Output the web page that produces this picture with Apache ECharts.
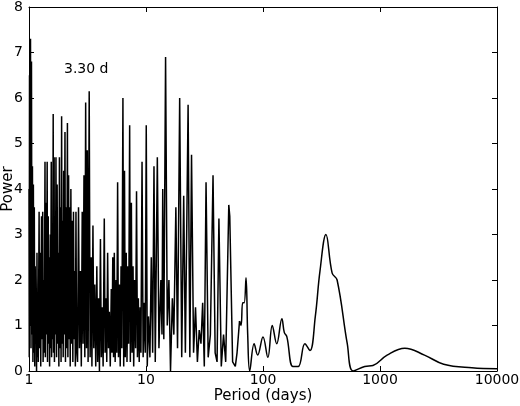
<!DOCTYPE html>
<html><head><meta charset="utf-8">
<script src="https://cdn.jsdelivr.net/npm/echarts@6/dist/echarts.min.js"></script>
<style>html,body{margin:0;padding:0;background:#fff}#c{width:520px;height:406px}</style>
</head><body><div id="c"></div>
<script>
const periods = [1.00,1.005,1.01,1.02,1.03,1.04,1.05,1.06,1.07,1.08,1.09,1.10,1.11,1.12,1.13,1.14,1.15,1.16,1.17,1.18,1.19,1.20,1.22,1.23,1.25,1.26,1.28,1.29,1.31,1.32,1.34,1.35,1.37,1.38,1.40,1.41,1.43,1.44,1.46,1.47,1.49,1.50,1.52,1.53,1.55,1.56,1.58,1.59,1.61,1.62,1.64,1.65,1.67,1.68,1.70,1.72,1.74,1.76,1.78,1.80,1.82,1.84,1.86,1.88,1.90,1.92,1.94,1.96,1.98,2.00,2.03,2.05,2.08,2.10,2.13,2.15,2.18,2.20,2.23,2.25,2.28,2.31,2.34,2.37,2.40,2.43,2.46,2.49,2.52,2.55,2.60,2.65,2.70,2.75,2.80,2.85,2.90,2.95,3.00,3.05,3.10,3.15,3.20,3.27,3.33,3.40,3.45,3.52,3.58,3.65,3.72,3.80,3.86,3.93,4.00,4.08,4.15,4.22,4.30,4.40,4.47,4.55,4.62,4.70,4.78,4.86,4.95,5.05,5.12,5.20,5.28,5.36,5.45,5.55,5.63,5.72,5.82,5.92,6.02,6.12,6.22,6.35,6.45,6.55,6.65,6.78,6.88,7.0,7.1,7.25,7.35,7.5,7.6,7.75,7.85,8.0,8.15,8.3,8.45,8.6,8.75,8.9,9.05,9.25,9.45,9.65,9.85,10.05,10.25,10.5,10.8,11.1,11.4,11.7,12.0,12.5,12.9,13.4,13.7,13.9,14.2,14.7,15.2,15.7,16.2,16.8,17.3,18.0,18.6,19.4,20.2,21.0,21.7,22.9,23.7,24.5,25.5,26.5,27.5,28.5,29.5,30.5,31.5,32.6,34.0,35.5,37.4,39,40.5,42,44,46,48,51,52,55,58,60,63];
const power = [4.0,0.3,6.5,1.0,7.3,0.5,6.8,0.8,4.5,0.2,4.1,0.4,3.6,0.1,2.3,0.6,1.7,0.0,2.6,0.3,1.5,0.2,3.5,0.5,2.6,0.1,3.4,0.7,3.5,0.2,2.0,0.4,4.6,0.3,3.7,0.8,4.6,0.2,3.4,0.6,2.5,0.1,3.0,0.5,4.6,0.3,2.3,0.7,5.65,0.4,4.7,0.2,3.2,0.8,4.7,0.3,4.1,0.6,2.6,0.1,4.7,0.5,3.6,0.2,5.6,0.6,3.3,0.3,4.4,0.8,5.25,0.2,3.6,0.5,5.45,0.3,4.3,0.7,3.6,0.1,4.0,0.6,3.3,0.2,3.5,0.7,2.2,0.1,3.5,0.5,0.2,3.6,0.5,2.2,0.1,3.5,0.6,4.3,0.3,5.9,0.5,4.85,0.2,6.15,0.3,2.5,0.1,3.2,0.5,1.9,0.1,2.3,0.2,1.6,0.0,2.9,0.3,1.4,0.1,3.35,0.4,1.6,0.2,2.6,0.5,1.3,0.1,1.8,0.4,2.5,0.3,2.6,0.2,2.0,0.4,4.15,0.3,1.9,0.1,2.3,0.5,6.0,0.1,4.4,0.3,2.6,0.2,2.3,0.6,5.4,0.2,3.7,0.4,2.3,0.1,2.0,0.5,3.95,0.3,1.6,0.2,1.4,0.4,4.6,0.3,1.5,0.4,5.4,0.1,1.2,0.3,2.5,0.4,4.5,0.2,4.7,0.5,2.0,0.8,4.0,0.7,6.9,1.0,2.0,0.0,1.6,0.8,3.6,0.5,6.0,0.3,3.85,0.4,5.85,0.3,4.75,0.4,1.4,0.2,0.9,0.6,1.5,0.1,4.15,0.3,0.8,4.3,0.4,0.2,3.35,0.1,0.8,0.2,3.65,3.4,0.2,0.1,0.4,1.1];
const periodsLong = [63,65,67,69,71.6,74,77,84,90,100,110,120,131,145,152,160,180,200,228,252,280,307,345,390,430,525,590,740,870,1150,1630,2400,3500,6100,10000];
const powerLong = [1.1,1.0,1.5,1.5,2.05,0.8,0.0,0.6,0.35,0.75,0.3,1.0,0.6,1.15,0.85,0.75,0.1,0.1,0.6,0.45,1.2,2.2,3.0,2.15,2.0,0.6,0.0,0.1,0.12,0.35,0.5,0.35,0.15,0.07,0.05];
const xTicks = [1,10,100,1000,10000];
const data = periods.map((p,i)=>[p,power[i]]);
const dataLong = periodsLong.map((p,i)=>[p,powerLong[i]]);
const font = {fontFamily:'DejaVu Sans',fontSize:14,color:'#000'};
const axLine = {show:true,onZero:false,lineStyle:{color:'#000',width:1}};
const chart = echarts.init(document.getElementById('c'));
chart.setOption({
  animation:false,
  grid:{left:29,right:23,top:7,bottom:35,containLabel:false,outerBoundsMode:'none'},
  xAxis:[
    {type:'log',logBase:10,min:1,max:10000,axisLine:axLine,
     axisTick:{inside:true,length:5,lineStyle:{color:'#000'}},
     axisLabel:Object.assign({margin:2,formatter:v=>String(Math.round(v))},font),
     splitLine:{show:false}},
    {type:'log',logBase:10,min:1,max:10000,position:'top',axisLine:axLine,
     axisTick:{inside:true,length:5,lineStyle:{color:'#000'}},axisLabel:{show:false},splitLine:{show:false}}
  ],
  yAxis:[
    {type:'value',min:0,max:8,interval:1,axisLine:axLine,
     axisTick:{show:true,inside:true,length:5,lineStyle:{color:'#000'}},
     axisLabel:Object.assign({margin:6},font),splitLine:{show:false}},
    {type:'value',min:0,max:8,interval:1,position:'right',axisLine:axLine,
     axisTick:{show:true,inside:true,length:5,lineStyle:{color:'#000'}},axisLabel:{show:false},splitLine:{show:false}}
  ],
  series:[
    {type:'line',data:data,showSymbol:false,lineStyle:{color:'#000',width:1.5}},
    {type:'line',data:dataLong,showSymbol:false,smooth:0.4,lineStyle:{color:'#000',width:1.5}}
  ],
  graphic:[
    {type:'text',left:64,top:62,style:{text:'3.30 d',font:'14px DejaVu Sans',fill:'#000'}},
    {type:'text',x:263,y:389,style:{text:'Period (days)',font:'15px DejaVu Sans',fill:'#000',align:'center',verticalAlign:'top'}},
    {type:'text',x:8,y:189,rotation:Math.PI/2,style:{text:'Power',font:'15px DejaVu Sans',fill:'#000',align:'center',verticalAlign:'middle'}}
  ]
});
</script></body></html>
